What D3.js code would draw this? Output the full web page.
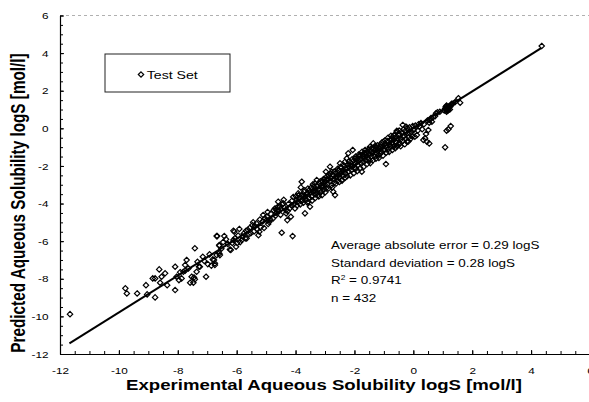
<!DOCTYPE html>
<html><head><meta charset="utf-8">
<script src="https://cdn.jsdelivr.net/npm/d3@7"></script>
<style>body{margin:0;background:#fff}svg{display:block}</style>
</head><body>
<svg id="c" width="589" height="402"></svg>
<script>
// Test set: [experimental logS, predicted logS]
const testSet = [
[-11.66,-9.88],
[-9.78,-8.51],[-9.73,-8.78],[-9.38,-8.78],[-9.08,-8.34],[-9.04,-8.83],[-8.77,-8.99],[-8.85,-7.98],[-8.77,-7.98],[-8.63,-7.50],[-8.43,-7.71],[-8.55,-7.89],[-8.60,-8.21],[-8.36,-8.34],[-8.09,-7.36],[-8.09,-8.60],[-7.96,-8.07],[-7.87,-7.98],[-8.04,-7.89],[-7.70,-7.00],[-7.75,-7.27],[-7.81,-7.63],[-7.75,-7.57],[-7.53,-7.89],[-7.47,-8.21],[-7.58,-8.21],[-7.45,-7.93],[-7.42,-8.03],[-7.42,-6.38],[-7.36,-7.63],[-7.25,-7.36],[-7.28,-7.36],[-7.15,-6.83],[-7.04,-7.89],[-6.98,-7.22],[-6.81,-6.97],[-6.77,-7.00],[-6.74,-7.27],[-6.74,-7.18],[-6.68,-6.74],[-6.68,-5.73],[-6.59,-6.21],[-6.59,-6.65],[-6.57,-6.74],[-6.66,-5.73],[-6.42,-5.73],[-6.36,-5.90],[-6.59,-6.24],[-6.23,-6.44],[-6.20,-6.47],[-6.11,-5.45],[-6.08,-5.50],[-6.06,-5.85],[-6.11,-5.94],[-6.02,-6.30],[-5.83,-5.94],[-5.68,-5.45],[-5.55,-5.29],[-5.38,-5.20],[-5.26,-5.68],[-5.23,-5.50],[-5.10,-4.61],[-5.04,-4.79],[-4.93,-5.09],[-4.98,-4.88],[-4.47,-5.55],[-4.10,-5.73],[-4.64,-4.35],[-4.70,-4.26],[-4.53,-4.17],[-4.42,-3.99],[-4.59,-3.90],[-4.32,-4.52],[-4.28,-4.88],[-4.16,-4.70],[-4.02,-4.26],
[-3.96,-3.81],[-3.91,-3.46],[-3.79,-2.84],[-3.82,-3.14],[-3.74,-3.64],[-3.68,-4.52],[-3.64,-3.81],[-3.57,-3.90],[-3.51,-4.17],[-3.45,-3.64],[-3.40,-3.37],[-3.34,-2.93],[-3.28,-2.75],[-3.23,-3.55],[-3.17,-3.28],[-3.06,-3.11],[-3.00,-2.84],[-2.97,-2.31],[-2.89,-2.66],[-2.83,-2.04],[-2.77,-2.31],[-2.72,-3.37],[-2.66,-3.55],[-2.60,-2.57],[-2.55,-2.22],[-2.49,-1.86],[-2.43,-2.75],[-2.38,-2.22],[-2.32,-1.78],[-2.26,-1.60],[-2.21,-1.33],[-2.06,-1.15],[-2.15,-1.95],[-2.09,-2.04],[-1.98,-1.60],[-1.92,-1.78],[-1.81,-1.42],[-1.75,-2.31],[-1.70,-1.51],[-1.64,-1.15],[-1.58,-1.33],[-1.47,-0.98],[-1.36,-0.80],[-1.30,-1.15],[-1.24,-1.33],[-1.13,-0.98],[-1.02,-0.71],[-0.93,-1.90],[-0.90,-0.89],[-0.79,-0.62],[-0.70,-0.45],[-0.62,-0.71],[-0.56,-0.18],[-0.51,-0.36],
[4.36,4.38],[1.53,1.60],[1.59,1.36],[1.13,1.21],[1.13,1.10],[1.16,0.95],[1.13,0.88],[1.08,1.06],[1.19,0.97],[1.25,1.15],[1.20,1.05],[1.05,0.95],[0.77,0.80],[0.74,0.65],[0.56,0.44],[0.54,0.30],[0.63,0.35],[-0.36,0.18],[-0.25,0.09],[-0.56,-0.13],[0.51,-0.09],[0.43,-0.30],[0.12,-0.36],[0.40,-0.53],[0.46,-0.71],[0.54,-0.80],[0.34,-0.62],[1.27,0.12],[1.19,-0.05],[1.13,-0.13],[1.08,-1.01],[-0.22,-0.71],[-0.45,-0.80],[-0.68,-0.98],[-1.02,-1.15],[-0.11,-0.27],[0.00,-0.09],[-0.34,-0.45],
[-5.95,-5.70],[-5.88,-6.05],[-5.76,-5.60],[-5.71,-5.85],[-5.62,-5.40],[-5.58,-5.62],[-5.47,-5.15],[-5.41,-5.48],[-5.33,-5.05],[-5.18,-5.25],[-5.12,-4.95],[-4.97,-4.70],[-4.90,-4.98],[-4.84,-4.55],[-4.77,-4.80],[-4.66,-4.50],[-4.61,-4.18],[-4.56,-4.40],[-4.49,-4.28],[-4.45,-4.05],[-4.38,-4.22],[-4.33,-4.35],[-4.24,-4.02],[-4.19,-4.25],[-4.12,-3.85],[-4.06,-4.05],
[-3.98,-3.62],[-3.93,-3.90],[-3.87,-3.70],[-3.84,-4.05],[-3.78,-3.55],[-3.76,-3.82],[-3.71,-3.38],[-3.66,-3.62],[-3.62,-3.48],[-3.58,-3.20],[-3.55,-3.72],[-3.49,-3.42],[-3.47,-3.15],[-3.43,-3.58],[-3.38,-3.10],[-3.36,-3.30],[-3.31,-3.52],[-3.27,-3.05],[-3.24,-3.25],[-3.19,-2.95],[-3.14,-3.40],[-3.12,-3.05],[-3.08,-2.80],[-3.03,-3.25],[-3.01,-2.98],[-2.96,-3.18],
[-2.94,-2.72],[-2.91,-2.95],[-2.87,-2.50],[-2.84,-2.82],[-2.80,-2.64],[-2.78,-3.02],[-2.74,-2.45],[-2.71,-2.70],[-2.68,-2.88],[-2.64,-2.38],[-2.62,-2.62],[-2.58,-2.80],[-2.56,-2.48],[-2.52,-2.25],[-2.50,-2.60],[-2.46,-2.40],[-2.44,-2.10],[-2.40,-2.55],[-2.36,-2.32],[-2.34,-2.02],[-2.30,-2.40],[-2.28,-2.18],[-2.24,-1.95],[-2.20,-2.30],[-2.18,-2.08],[-2.13,-1.82],[-2.11,-2.22],[-2.07,-1.98],[-2.03,-1.72],[-2.01,-2.10],
[-1.97,-1.88],[-1.95,-2.15],[-1.90,-1.62],[-1.88,-1.95],[-1.85,-1.75],[-1.83,-1.48],[-1.79,-1.85],[-1.77,-1.62],[-1.73,-1.40],[-1.71,-1.78],[-1.67,-1.62],[-1.66,-1.30],[-1.62,-1.70],[-1.60,-1.50],[-1.56,-1.22],[-1.53,-1.62],[-1.50,-1.40],[-1.48,-1.72],[-1.45,-1.18],[-1.42,-1.48],[-1.39,-1.30],[-1.34,-1.05],[-1.32,-1.50],[-1.28,-1.28],[-1.26,-1.00],[-1.21,-1.20],[-1.19,-1.45],[-1.15,-1.08],[-1.11,-0.85],[-1.08,-1.25],[-1.05,-1.00],
[-0.98,-1.15],[-0.96,-0.80],[-0.91,-1.02],[-0.87,-0.68],[-0.84,-1.10],[-0.81,-0.85],[-0.77,-0.95],[-0.74,-0.58],[-0.72,-0.80],[-0.66,-0.62],[-0.64,-0.92],[-0.60,-0.48],[-0.58,-0.75],[-0.53,-0.55],[-0.49,-0.85],[-0.47,-0.30],[-0.42,-0.58],[-0.39,-0.22],[-0.37,-0.68],[-0.31,-0.40],[-0.28,-0.15],[-0.26,-0.55],[-0.19,-0.25],[-0.16,-0.48],[-0.13,0.05],[-0.07,-0.20],[-0.04,-0.42],[0.03,-0.05],[0.07,0.15],[0.15,-0.12],[0.21,0.10],[0.26,0.28],[0.30,-0.05],[0.36,0.22],[0.48,0.42],[0.60,0.55],[0.68,0.60],
[1.10,1.15],[1.15,1.02],[1.22,1.18],[1.28,1.25],[1.18,1.12],[1.24,1.00],[1.30,1.30],[1.35,1.32],[1.42,1.40],[1.12,0.98],[0.82,0.85],[0.90,0.88],
[-3.95,-4.10],[-3.89,-3.55],[-3.81,-3.88],[-3.73,-3.95],[-3.69,-3.30],[-3.60,-3.95],[-3.53,-3.28],[-3.44,-3.85],[-3.41,-2.98],[-3.33,-3.70],[-3.29,-3.38],[-3.21,-3.62],[-3.16,-2.82],[-3.10,-3.55],[-3.05,-2.70],[-2.99,-3.40],[-2.93,-2.55],[-2.88,-3.20],[-2.82,-2.40],[-2.76,-3.15],[-2.69,-2.30],[-2.63,-2.95],[-2.57,-2.15],[-2.51,-2.85],[-2.47,-2.05],[-2.42,-2.78],[-2.37,-1.95],[-2.31,-2.62],[-2.25,-2.55],[-2.19,-1.75],[-2.14,-2.50],[-2.08,-1.65],[-2.02,-2.38],[-1.96,-1.50],[-1.91,-2.28],[-1.86,-1.40],[-1.80,-2.12],[-1.74,-1.25],[-1.69,-2.05],[-1.63,-1.35],[-1.57,-1.90],[-1.52,-1.10],[-1.46,-1.85],[-1.41,-1.05],[-1.37,-1.70],[-1.31,-0.95],[-1.27,-1.62],[-1.22,-0.90],[-1.17,-1.58],[-1.12,-1.35],[-1.07,-0.75],[-1.03,-1.45],[-0.97,-0.65],[-0.92,-1.30],[-0.86,-0.50],[-0.82,-1.25],[-0.76,-0.40],[-0.71,-1.15],[-0.65,-0.35],[-0.61,-1.05],[-0.55,-0.95],[-0.48,-0.12],[-0.43,-0.95],[-0.33,-0.05],[-0.29,-0.85],[-0.21,0.02],[-0.17,-0.70],[-0.09,-0.55],[-0.02,0.12],[0.05,-0.45],[0.18,0.22],
[-5.98,-6.10],[-5.91,-5.35],[-5.80,-5.75],[-5.66,-5.85],[-5.52,-5.58],[-5.44,-5.00],[-5.30,-5.38],[-5.21,-4.85],[-5.07,-5.30],[-4.95,-4.45],[-4.86,-4.85],[-4.74,-4.35],[-4.68,-4.65],[-4.51,-4.60],[-4.40,-3.80],[-4.27,-4.40],[-4.14,-4.10],[-4.08,-3.65],
[-7.92,-7.65],[-7.64,-7.45],[-7.33,-7.10],[-7.10,-7.05],[-6.92,-6.70],[-6.86,-7.30],[-6.52,-6.40],[-6.46,-6.05],[-6.30,-6.15],[-6.15,-6.10]
];
const regressionLine = [[-11.68,-11.44],[4.34,4.26]];
const xTicks = [-12,-10,-8,-6,-4,-2,0,2,4,6];
const yTicks = [-12,-10,-8,-6,-4,-2,0,2,4,6];
const legendLabel = "Test Set";
const statLines = ["Average absolute error = 0.29 logS","Standard deviation = 0.28 logS","R2 = 0.9741","n = 432"];
const xTitle = "Experimental Aqueous Solubility logS [mol/l]";
const yTitle = "Predicted Aqueous Solubility logS [mol/l]";

const FONT = "'Liberation Sans', Arial, Helvetica, sans-serif";
const SX = 1.2;   // horizontal stretch of the scanned figure
const TSX = 1.3;  // stretch of bold titles
const svg = d3.select("#c");
const x = d3.scaleLinear().domain([-12,6]).range([60,590]);
const y = d3.scaleLinear().domain([-12,6]).range([354,15.5]);
const fmt = d => String(d);

// top dotted frame line
svg.append("line").attr("x1",x(-12)).attr("x2",589).attr("y1",y(6)).attr("y2",y(6))
  .attr("stroke","#b0b0b0").attr("stroke-width",1).attr("stroke-dasharray","3,3");

// minor ticks
const minorX = d3.range(-12,6.01,0.5), minorY = d3.range(-12,6.01,0.5);
svg.append("g").attr("transform",`translate(0,${y(-12)})`)
  .call(d3.axisBottom(x).tickValues(minorX).tickSizeInner(-3).tickSizeOuter(0).tickFormat(""))
  .call(g=>g.select(".domain").remove());
svg.append("g").attr("transform",`translate(${x(-12)},0)`)
  .call(d3.axisLeft(y).tickValues(minorY).tickSizeInner(-3).tickSizeOuter(0).tickFormat(""))
  .call(g=>g.select(".domain").remove());

// major axes
const gx = svg.append("g").attr("transform",`translate(0,${y(-12)})`)
  .call(d3.axisBottom(x).tickValues(xTicks).tickSizeInner(-4).tickSizeOuter(0).tickPadding(13).tickFormat(fmt));
gx.selectAll("text").attr("font-family",FONT).attr("font-size",9.8).attr("fill","#000").attr("transform",`scale(${SX},1)`);
const gy = svg.append("g").attr("transform",`translate(${x(-12)},0)`)
  .call(d3.axisLeft(y).tickValues(yTicks).tickSizeInner(-4).tickSizeOuter(0).tickPadding(11.5/SX).tickFormat(fmt));
gy.selectAll("text").attr("font-family",FONT).attr("font-size",9.8).attr("fill","#000").attr("transform",`scale(${SX},1)`);
svg.selectAll(".domain").attr("stroke","#000").attr("stroke-width",1.2);
svg.selectAll(".tick line").attr("stroke","#000");

// regression line
svg.append("path").datum(regressionLine)
  .attr("d",d3.line().x(d=>x(d[0])).y(d=>y(d[1])))
  .attr("stroke","#000").attr("stroke-width",2).attr("fill","none");

// points
const dia = "M0,-2.7L2.7,0L0,2.7L-2.7,0Z";
svg.append("g").selectAll("path").data(testSet).join("path")
  .attr("d",dia).attr("transform",d=>`translate(${x(d[0])},${y(d[1])})`)
  .attr("fill","none").attr("stroke","#000").attr("stroke-width",1.2);

// legend
svg.append("rect").attr("x",105).attr("y",54).attr("width",125).attr("height",38)
  .attr("fill","#fff").attr("stroke","#222").attr("stroke-width",1);
svg.append("path").attr("d",dia).attr("transform","translate(141,74.5)")
  .attr("fill","none").attr("stroke","#000").attr("stroke-width",1.2);
svg.append("text").attr("transform",`translate(146.7,78.5) scale(${SX},1)`)
  .attr("font-family",FONT).attr("font-size",11.8).text(legendLabel);

// statistics
const st = svg.append("g").attr("transform",`translate(331,249.3) scale(${SX},1)`)
  .attr("font-family",FONT).attr("font-size",11.2);
statLines.forEach((s,i)=>{
  const t = st.append("text").attr("y",i*17.5);
  if(s.startsWith("R2")){
    t.append("tspan").text("R");
    t.append("tspan").attr("font-size",7).attr("dy",-4.5).text("2");
    t.append("tspan").attr("dy",4.5).text(s.slice(2));
  } else t.text(s);
});

// axis titles
svg.append("text").attr("transform",`translate(324,389.5) scale(${TSX},1)`)
  .attr("text-anchor","middle").attr("font-family",FONT).attr("font-weight","bold")
  .attr("font-size",14.3).text(xTitle);
svg.append("text").attr("transform",`translate(25,203) scale(${TSX},1) rotate(-90)`)
  .attr("text-anchor","middle").attr("font-family",FONT).attr("font-weight","bold")
  .attr("font-size",15.3).text(yTitle);
</script>
</body></html>
